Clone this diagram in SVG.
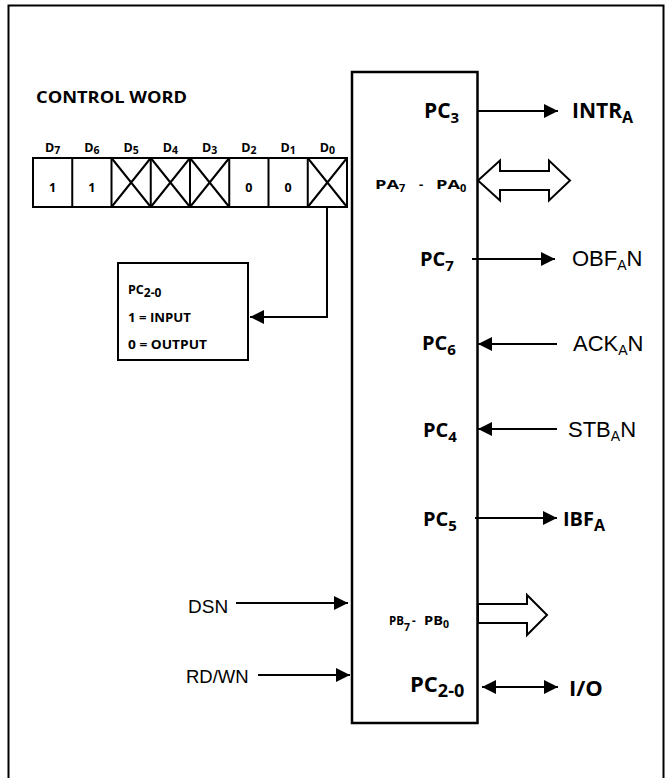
<svg xmlns="http://www.w3.org/2000/svg" width="669" height="778" viewBox="0 0 669 778">
<defs>
<style>
.ln{stroke:#000;stroke-width:2;fill:none}
.box{stroke:#000;stroke-width:2.5;fill:#fff}
.hb{font-family:"Open Sans","Noto Sans",sans-serif;font-weight:700;fill:#000}
.ar{font-family:"Liberation Sans",Arial,sans-serif;fill:#000}
.hol{stroke:#000;stroke-width:2;fill:#fff;stroke-linejoin:miter}
</style>
<marker id="ah" viewBox="0 0 14 14" refX="14" refY="7" markerWidth="14" markerHeight="14" markerUnits="userSpaceOnUse" orient="auto-start-reverse">
<path d="M0,0 L14,7 L0,14 Z" fill="#000"/>
</marker>
</defs>
<rect id="frame" x="8.5" y="5.5" width="655" height="790" fill="none" stroke="#000" stroke-width="2"/>

<g id="control-word">
<text class="hb" x="36" y="103" font-size="16" font-weight="600" textLength="151" lengthAdjust="spacingAndGlyphs">CONTROL WORD</text>
<g class="hb" font-size="12.5" text-anchor="middle">
<text x="52.6" y="152">D<tspan font-size="10.5" dy="2">7</tspan></text>
<text x="91.9" y="152">D<tspan font-size="10.5" dy="2">6</tspan></text>
<text x="131.1" y="152">D<tspan font-size="10.5" dy="2">5</tspan></text>
<text x="170.4" y="152">D<tspan font-size="10.5" dy="2">4</tspan></text>
<text x="209.6" y="152">D<tspan font-size="10.5" dy="2">3</tspan></text>
<text x="248.9" y="152">D<tspan font-size="10.5" dy="2">2</tspan></text>
<text x="288.1" y="152">D<tspan font-size="10.5" dy="2">1</tspan></text>
<text x="327.4" y="152">D<tspan font-size="10.5" dy="2">0</tspan></text>
</g>
<rect x="33" y="158" width="314" height="49" class="ln"/>
<path class="ln" d="M72.25,158V207M111.5,158V207M150.75,158V207M190,158V207M229.25,158V207M268.5,158V207M307.75,158V207"/>
<path class="ln" d="M111.5,158L150.75,207M150.75,158L111.5,207M150.75,158L190,207M190,158L150.75,207M190,158L229.25,207M229.25,158L190,207M307.75,158L347,207M347,158L307.75,207"/>
<g class="hb" font-size="12.5" text-anchor="middle">
<text x="52.6" y="192">1</text>
<text x="91.9" y="192">1</text>
<text x="248.9" y="192">0</text>
<text x="288.1" y="192">0</text>
</g>
</g>

<g id="pc-config-box">
<rect x="118" y="263" width="130" height="97" class="ln"/>
<g class="hb" font-size="12.5">
<text x="128" y="294">PC<tspan font-size="12" dy="3">2-0</tspan></text>
<text x="128" y="322" textLength="63" lengthAdjust="spacingAndGlyphs">1 = INPUT</text>
<text x="128" y="349" textLength="79" lengthAdjust="spacingAndGlyphs">0 = OUTPUT</text>
</g>
</g>

<g id="port-block">
<rect x="352" y="72" width="125.5" height="651" class="box"/>
<text class="hb" x="424" y="118" font-size="21">PC<tspan font-size="15" dy="5">3</tspan></text>
<text class="hb" font-size="13"><tspan x="375" y="189" textLength="24" lengthAdjust="spacingAndGlyphs">PA</tspan><tspan font-size="11" dy="3">7</tspan><tspan x="419" y="189">-</tspan><tspan x="436" y="189" textLength="24" lengthAdjust="spacingAndGlyphs">PA</tspan><tspan font-size="11" dy="3">0</tspan></text>
<text class="hb" x="420" y="266" font-size="20">PC<tspan font-size="15" dy="5">7</tspan></text>
<text class="hb" x="422" y="350" font-size="20">PC<tspan font-size="15" dy="5">6</tspan></text>
<text class="hb" x="423" y="437" font-size="20">PC<tspan font-size="15" dy="5">4</tspan></text>
<text class="hb" x="423" y="526" font-size="20">PC<tspan font-size="15" dy="5">5</tspan></text>
<text class="hb" font-size="11.5"><tspan x="389" y="625">PB</tspan><tspan font-size="10.5" dy="6">7</tspan><tspan x="412" y="625">-</tspan><tspan x="424" y="625" textLength="19" lengthAdjust="spacingAndGlyphs">PB</tspan><tspan font-size="10.5" dy="3">0</tspan></text>
<text class="hb" x="410" y="692" font-size="22">PC<tspan font-size="18" dy="5">2-0</tspan></text>
</g>

<g id="signals">
<text class="hb" x="572" y="118" font-size="21">INTR<tspan font-size="16" dy="5">A</tspan></text>
<text class="ar" x="572" y="266" font-size="22">OBF<tspan font-size="14" dy="4">A</tspan><tspan dy="-4">N</tspan></text>
<text class="ar" x="573" y="351" font-size="22">ACK<tspan font-size="14" dy="4">A</tspan><tspan dy="-4">N</tspan></text>
<text class="ar" x="568" y="437" font-size="22">STB<tspan font-size="14" dy="4">A</tspan><tspan dy="-4">N</tspan></text>
<text class="hb" x="563" y="526" font-size="20">IBF<tspan font-size="16" dy="5">A</tspan></text>
<text class="ar" x="188" y="613" font-size="19">DSN</text>
<text class="ar" x="186" y="683" font-size="18.5">RD/WN</text>
<text class="hb" x="569" y="696" font-size="22">I/O</text>
</g>

<g id="connectors">
<path class="ln" d="M327,207V317H250" marker-end="url(#ah)"/>
<path class="ln" d="M478,111H558" marker-end="url(#ah)"/>
<polygon class="hol" points="478,180.5 500,160.5 500,171 549,171 549,160.5 570,180.5 549,200.5 549,190 500,190 500,200.5"/>
<path class="ln" d="M472,259H555" marker-end="url(#ah)"/>
<path class="ln" d="M557,344H478" marker-end="url(#ah)"/>
<path class="ln" d="M557,429H478" marker-end="url(#ah)"/>
<path class="ln" d="M475,518H557" marker-end="url(#ah)"/>
<path class="ln" d="M236,603H348" marker-end="url(#ah)"/>
<path class="ln" d="M258,675H350" marker-end="url(#ah)"/>
<polygon class="hol" points="478,604 527,604 527,595 547,615 527,635 527,623 478,623"/>
<path class="ln" d="M482,687H558" marker-start="url(#ah)" marker-end="url(#ah)"/>
</g>
</svg>
